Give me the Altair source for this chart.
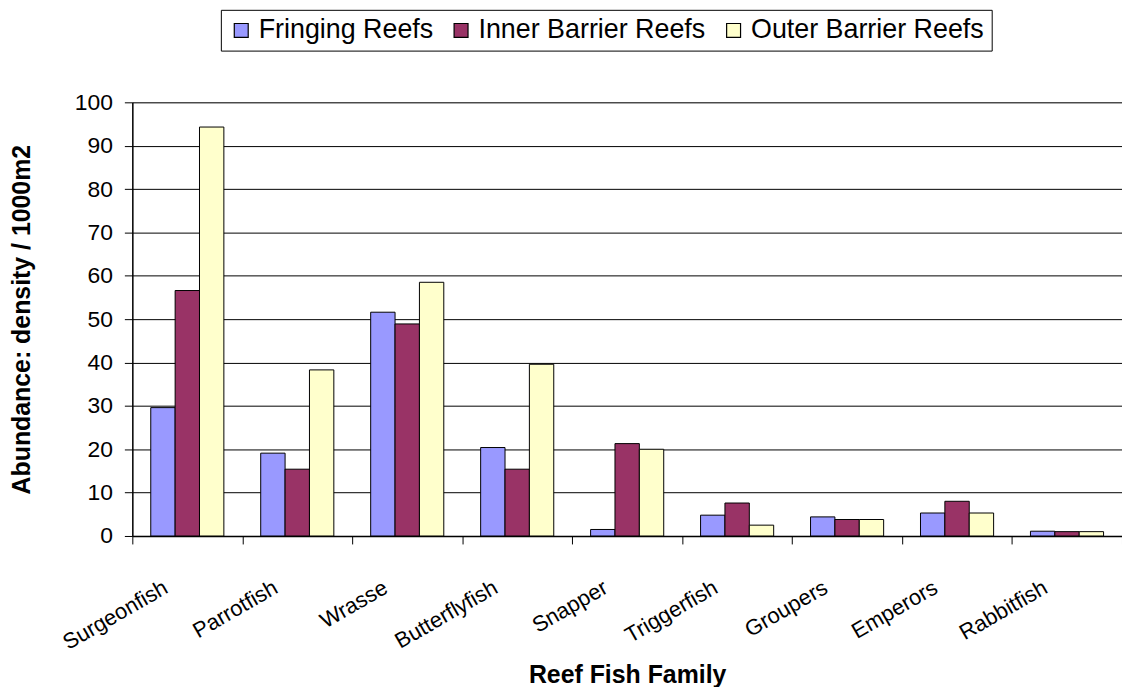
import altair as alt
import pandas as pd

families = ["Surgeonfish", "Parrotfish", "Wrasse", "Butterflyfish", "Snapper",
            "Triggerfish", "Groupers", "Emperors", "Rabbitfish"]
series = ["Fringing Reefs", "Inner Barrier Reefs", "Outer Barrier Reefs"]
fringing = [29.6, 19.1, 51.6, 20.4, 1.5, 4.8, 4.4, 5.3, 1.1]
inner = [56.6, 15.4, 48.9, 15.4, 21.3, 7.6, 3.8, 8.0, 1.0]
outer = [94.3, 38.3, 58.5, 39.6, 20.0, 2.5, 3.8, 5.3, 1.0]
colors = ["#9999FF", "#993366", "#FFFFCC"]
y_ticks = [0, 10, 20, 30, 40, 50, 60, 70, 80, 90, 100]

rows = []
for vals, s in zip([fringing, inner, outer], series):
    for f, v in zip(families, vals):
        rows.append({"family": f, "series": s, "value": v})
df = pd.DataFrame(rows)

FONT = "Liberation Sans"

chart = alt.Chart(df).mark_bar(stroke="black", strokeWidth=1).encode(
    x=alt.X("family:N", sort=families,
            scale=alt.Scale(paddingInner=0, paddingOuter=0),
            axis=alt.Axis(title="Reef Fish Family", labelAngle=-30,
                          labelAlign="right", labelBaseline="top",
                          labelPadding=33, labelOffset=-27,
                          tickBand="extent", tickSize=8, tickColor="black",
                          domainColor="black", domainWidth=1.5, grid=False,
                          labelFontSize=22, labelColor="black", labelFont=FONT,
                          titleFontSize=25, titleFont=FONT, titleColor="black",
                          titleFontWeight="bold", titleY=147,
                          titleBaseline="alphabetic")),
    xOffset=alt.XOffset("series:N", sort=series,
                        scale=alt.Scale(paddingInner=0, paddingOuter=0.756)),
    y=alt.Y("value:Q", scale=alt.Scale(domain=[0, 100], nice=False),
            axis=alt.Axis(title="Abundance: density / 1000m2", values=y_ticks,
                          tickSize=8, tickColor="black", domainColor="black",
                          domainWidth=1.5, labelPadding=12, labelFontSize=23,
                          labelColor="black", labelFont=FONT,
                          gridColor="black", gridWidth=1, gridOpacity=1,
                          titleFontSize=25, titleFont=FONT, titleColor="black",
                          titleFontWeight="bold", titleX=-111,
                          titleBaseline="middle")),
    color=alt.Color("series:N", sort=series,
                    scale=alt.Scale(domain=series, range=colors),
                    legend=alt.Legend(title=None, orient="none", legendX=89,
                                      legendY=-93, direction="horizontal",
                                      columns=3, symbolType="square",
                                      symbolSize=196, symbolStrokeColor="black",
                                      symbolStrokeWidth=1.2, symbolOpacity=1,
                                      labelFontSize=27, labelFont=FONT,
                                      labelColor="black", labelOffset=4,
                                      columnPadding=14, padding=7,
                                      strokeColor="black", fillColor="white",
                                      labelLimit=400)),
).properties(
    width=995, height=436,
    autosize=alt.AutoSizeParams(type="none"),
    padding={"left": 125, "top": 93, "right": 0, "bottom": 150},
).configure_view(fill="#C0C0C0", strokeWidth=0).configure(background="white")

chart.save("out.html", embed_options={"renderer": "svg", "actions": False})
